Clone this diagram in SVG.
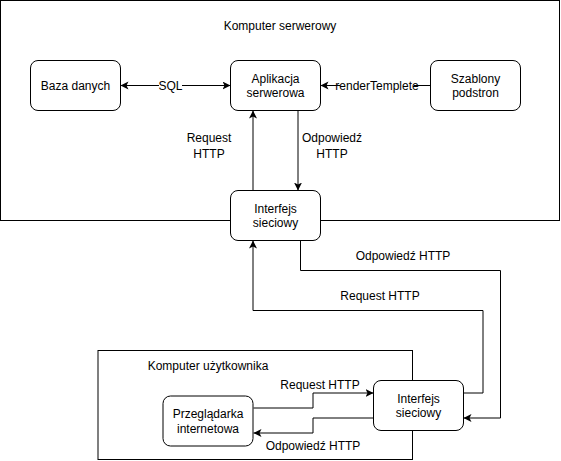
<svg xmlns="http://www.w3.org/2000/svg" width="561" height="461" viewBox="0 0 561 461">
<style>
text{font-family:"Liberation Sans",Arial,Helvetica,sans-serif;font-size:12px;fill:#000;text-anchor:middle}
.box{fill:#fff;stroke:#000;stroke-width:1}
.node{fill:#fff;stroke:#000;stroke-width:1}
.edge{fill:none;stroke:#000;stroke-width:1}
.lbl{fill:#fff;stroke:none}
</style>
<defs>
<marker id="arr" markerUnits="userSpaceOnUse" markerWidth="10" markerHeight="10" refX="8" refY="4" orient="auto-start-reverse">
<path d="M0,0 L8,4 L0,8 L2,4 Z" fill="#000"/>
</marker>
</defs>
<g id="server-computer">
<rect class="box" x="0.5" y="0.5" width="559" height="220"/>
<text x="280" y="30">Komputer serwerowy</text>
</g>
<g id="user-computer">
<rect class="box" x="98" y="350.5" width="314.5" height="109"/>
<text x="208" y="370">Komputer użytkownika</text>
</g>
<g id="connectors">
<path class="edge" d="M120.5,85.5 H230.5" marker-start="url(#arr)" marker-end="url(#arr)"/>
<rect class="lbl" x="159" y="78" width="23" height="15"/>
<text x="170.5" y="89.5">SQL</text>
<path class="edge" d="M430.5,85.5 H320.5" marker-end="url(#arr)"/>
<rect class="lbl" x="340" y="78" width="74" height="15"/>
<text x="377" y="89.5">renderTemplete</text>
<path class="edge" d="M253,190.5 V110.5" marker-end="url(#arr)"/>
<text x="209" y="141.5">Request</text>
<text x="209" y="158">HTTP</text>
<path class="edge" d="M298,110.5 V190.5" marker-end="url(#arr)"/>
<text x="332" y="141.5">Odpowiedź</text>
<text x="332" y="158">HTTP</text>
<path class="edge" d="M300.5,240.5 V270.5 H500.5 V418 H463.5" marker-end="url(#arr)"/>
<text x="403" y="260">Odpowiedź HTTP</text>
<path class="edge" d="M463.5,393 H483 V310.5 H253 V240.5" marker-end="url(#arr)"/>
<text x="380" y="300">Request HTTP</text>
<path class="edge" d="M253.5,408 H313 V393 H373.5" marker-end="url(#arr)"/>
<text x="320" y="389">Request HTTP</text>
<path class="edge" d="M373.5,418 H313 V433 H253.5" marker-end="url(#arr)"/>
<text x="313" y="450">Odpowiedź HTTP</text>
</g>
<g id="baza-danych">
<rect class="node" x="30.5" y="60.5" width="90" height="50" rx="7.5"/>
<text x="75.5" y="89.5">Baza danych</text>
</g>
<g id="aplikacja-serwerowa">
<rect class="node" x="230.5" y="60.5" width="90" height="50" rx="7.5"/>
<text x="275.5" y="82.5">Aplikacja</text>
<text x="275.5" y="97">serwerowa</text>
</g>
<g id="szablony-podstron">
<rect class="node" x="430.5" y="60.5" width="90" height="50" rx="7.5"/>
<text x="475.5" y="82.5">Szablony</text>
<text x="475.5" y="97">podstron</text>
</g>
<g id="interfejs-serwer">
<rect class="node" x="230.5" y="190.5" width="90" height="50" rx="7.5"/>
<text x="275.5" y="212.5">Interfejs</text>
<text x="275.5" y="227">sieciowy</text>
</g>
<g id="przegladarka">
<rect class="node" x="163" y="396" width="90" height="50" rx="7.5"/>
<text x="208" y="418">Przeglądarka</text>
<text x="208" y="432.5">internetowa</text>
</g>
<g id="interfejs-klient">
<rect class="node" x="373.5" y="380.5" width="90" height="50" rx="7.5"/>
<text x="418.5" y="402.5">Interfejs</text>
<text x="418.5" y="417">sieciowy</text>
</g>
</svg>
